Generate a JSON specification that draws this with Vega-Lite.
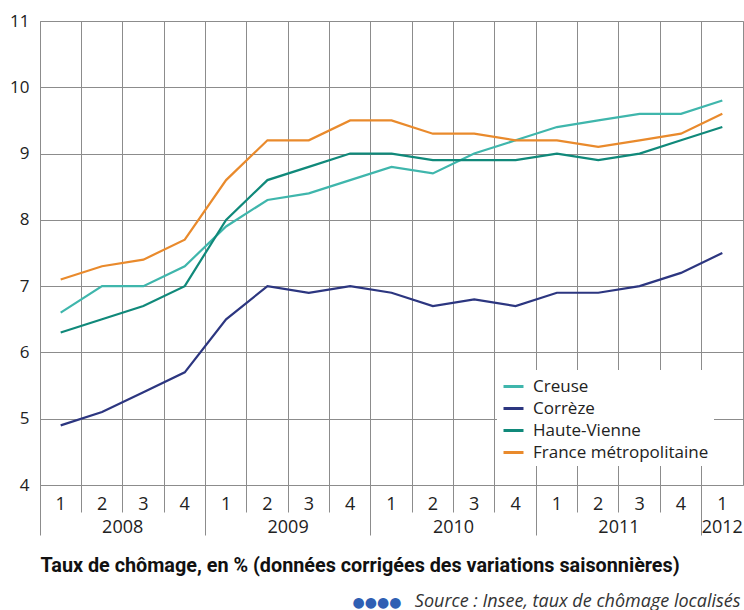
{
  "$schema": "https://vega.github.io/schema/vega-lite/v6.json",
  "width": 703,
  "height": 464,
  "autosize": {"type": "none"},
  "padding": {"left": 40, "top": 21, "right": 1, "bottom": 125},
  "background": "white",
  "config": {"view": {"stroke": "#8c8c8c", "strokeWidth": 1}, "font": "Open Sans"},
  "datasets": {
    "chomage": [
      {"t": "2008-1", "serie": "Creuse", "v": 6.6}, {"t": "2008-2", "serie": "Creuse", "v": 7.0}, {"t": "2008-3", "serie": "Creuse", "v": 7.0}, {"t": "2008-4", "serie": "Creuse", "v": 7.3},
      {"t": "2009-1", "serie": "Creuse", "v": 7.9}, {"t": "2009-2", "serie": "Creuse", "v": 8.3}, {"t": "2009-3", "serie": "Creuse", "v": 8.4}, {"t": "2009-4", "serie": "Creuse", "v": 8.6},
      {"t": "2010-1", "serie": "Creuse", "v": 8.8}, {"t": "2010-2", "serie": "Creuse", "v": 8.7}, {"t": "2010-3", "serie": "Creuse", "v": 9.0}, {"t": "2010-4", "serie": "Creuse", "v": 9.2},
      {"t": "2011-1", "serie": "Creuse", "v": 9.4}, {"t": "2011-2", "serie": "Creuse", "v": 9.5}, {"t": "2011-3", "serie": "Creuse", "v": 9.6}, {"t": "2011-4", "serie": "Creuse", "v": 9.6},
      {"t": "2012-1", "serie": "Creuse", "v": 9.8},
      {"t": "2008-1", "serie": "Corrèze", "v": 4.9}, {"t": "2008-2", "serie": "Corrèze", "v": 5.1}, {"t": "2008-3", "serie": "Corrèze", "v": 5.4}, {"t": "2008-4", "serie": "Corrèze", "v": 5.7},
      {"t": "2009-1", "serie": "Corrèze", "v": 6.5}, {"t": "2009-2", "serie": "Corrèze", "v": 7.0}, {"t": "2009-3", "serie": "Corrèze", "v": 6.9}, {"t": "2009-4", "serie": "Corrèze", "v": 7.0},
      {"t": "2010-1", "serie": "Corrèze", "v": 6.9}, {"t": "2010-2", "serie": "Corrèze", "v": 6.7}, {"t": "2010-3", "serie": "Corrèze", "v": 6.8}, {"t": "2010-4", "serie": "Corrèze", "v": 6.7},
      {"t": "2011-1", "serie": "Corrèze", "v": 6.9}, {"t": "2011-2", "serie": "Corrèze", "v": 6.9}, {"t": "2011-3", "serie": "Corrèze", "v": 7.0}, {"t": "2011-4", "serie": "Corrèze", "v": 7.2},
      {"t": "2012-1", "serie": "Corrèze", "v": 7.5},
      {"t": "2008-1", "serie": "Haute-Vienne", "v": 6.3}, {"t": "2008-2", "serie": "Haute-Vienne", "v": 6.5}, {"t": "2008-3", "serie": "Haute-Vienne", "v": 6.7}, {"t": "2008-4", "serie": "Haute-Vienne", "v": 7.0},
      {"t": "2009-1", "serie": "Haute-Vienne", "v": 8.0}, {"t": "2009-2", "serie": "Haute-Vienne", "v": 8.6}, {"t": "2009-3", "serie": "Haute-Vienne", "v": 8.8}, {"t": "2009-4", "serie": "Haute-Vienne", "v": 9.0},
      {"t": "2010-1", "serie": "Haute-Vienne", "v": 9.0}, {"t": "2010-2", "serie": "Haute-Vienne", "v": 8.9}, {"t": "2010-3", "serie": "Haute-Vienne", "v": 8.9}, {"t": "2010-4", "serie": "Haute-Vienne", "v": 8.9},
      {"t": "2011-1", "serie": "Haute-Vienne", "v": 9.0}, {"t": "2011-2", "serie": "Haute-Vienne", "v": 8.9}, {"t": "2011-3", "serie": "Haute-Vienne", "v": 9.0}, {"t": "2011-4", "serie": "Haute-Vienne", "v": 9.2},
      {"t": "2012-1", "serie": "Haute-Vienne", "v": 9.4},
      {"t": "2008-1", "serie": "France métropolitaine", "v": 7.1}, {"t": "2008-2", "serie": "France métropolitaine", "v": 7.3}, {"t": "2008-3", "serie": "France métropolitaine", "v": 7.4}, {"t": "2008-4", "serie": "France métropolitaine", "v": 7.7},
      {"t": "2009-1", "serie": "France métropolitaine", "v": 8.6}, {"t": "2009-2", "serie": "France métropolitaine", "v": 9.2}, {"t": "2009-3", "serie": "France métropolitaine", "v": 9.2}, {"t": "2009-4", "serie": "France métropolitaine", "v": 9.5},
      {"t": "2010-1", "serie": "France métropolitaine", "v": 9.5}, {"t": "2010-2", "serie": "France métropolitaine", "v": 9.3}, {"t": "2010-3", "serie": "France métropolitaine", "v": 9.3}, {"t": "2010-4", "serie": "France métropolitaine", "v": 9.2},
      {"t": "2011-1", "serie": "France métropolitaine", "v": 9.2}, {"t": "2011-2", "serie": "France métropolitaine", "v": 9.1}, {"t": "2011-3", "serie": "France métropolitaine", "v": 9.2}, {"t": "2011-4", "serie": "France métropolitaine", "v": 9.3},
      {"t": "2012-1", "serie": "France métropolitaine", "v": 9.6}
    ]
  },
  "data": {"name": "chomage"},
  "encoding": {
    "y": {
      "field": "v",
      "type": "quantitative",
      "scale": {"domain": [4, 11], "nice": false, "zero": false},
      "axis": {
        "values": [4, 5, 6, 7, 8, 9, 10, 11],
        "grid": true,
        "gridColor": "#8c8c8c",
        "gridWidth": 1,
        "ticks": false,
        "domain": false,
        "labelPadding": 11,
        "labelFontSize": 17,
        "labelColor": "#222222",
        "labelFont": "Open Sans",
        "title": "●●●●",
        "titleAngle": 0,
        "titleX": 312,
        "titleY": 581,
        "titleAlign": "left",
        "titleBaseline": "middle",
        "titleFont": "DejaVu Sans",
        "titleFontSize": 14,
        "titleFontWeight": "normal",
        "titleColor": "#2f5fb3"
      }
    }
  },
  "layer": [
    {
      "mark": {"type": "line", "strokeWidth": 2.2},
      "encoding": {
        "x": {
          "field": "t",
          "type": "ordinal",
          "scale": {"type": "band", "paddingInner": 0, "paddingOuter": 0},
          "axis": {
            "orient": "bottom",
            "bandPosition": 0,
            "grid": true,
            "gridColor": "#8c8c8c",
            "gridWidth": 1,
            "ticks": true,
            "tickSize": 27,
            "tickColor": "#8c8c8c",
            "domain": false,
            "labelExpr": "slice(datum.value, 5)",
            "labelOffset": 0,
            "labelPadding": -17,
            "labelAngle": 0,
            "labelAlign": "center",
            "labelFontSize": 18,
            "labelColor": "#222222",
            "labelOverlap": false,
            "labelBound": false,
            "labelFlush": false,
            "title": "Source : Insee, taux de chômage localisés",
            "titleX": 700,
            "titleY": 116,
            "titleAlign": "right",
            "titleBaseline": "middle",
            "titleFont": "Open Sans",
            "titleFontStyle": "italic",
            "titleFontWeight": "normal",
            "titleFontSize": 18,
            "titleColor": "#333333"
          }
        },
        "color": {
          "field": "serie",
          "type": "nominal",
          "scale": {
            "domain": ["Creuse", "Corrèze", "Haute-Vienne", "France métropolitaine"],
            "range": ["#3fb6ac", "#2c3680", "#10897a", "#e98a2c"]
          },
          "legend": {
            "orient": "none",
            "legendX": 457,
            "legendY": 349,
            "title": null,
            "fillColor": "white",
            "padding": 5,
            "symbolType": "stroke",
            "symbolStrokeWidth": 3,
            "symbolSize": 400,
            "labelFontSize": 17,
            "labelLimit": 300,
            "labelColor": "#222222",
            "labelFont": "Open Sans",
            "rowPadding": 2,
            "labelOffset": 8
          }
        }
      }
    },
    {
      "mark": {"type": "point", "opacity": 0},
      "encoding": {
        "x": {
          "field": "t",
          "type": "ordinal",
          "axis": {
            "orient": "bottom",
            "bandPosition": 0,
            "values": ["2008-1", "2009-1", "2010-1", "2011-1", "2012-1"],
            "grid": false,
            "ticks": true,
            "tickSize": 50,
            "tickColor": "#8c8c8c",
            "domain": false,
            "labelExpr": "slice(datum.value, 0, 4)",
            "labelOffset": {"condition": {"test": "datum.value == '2012-1'", "value": 0}, "value": 62},
            "labelPadding": -17,
            "labelAngle": 0,
            "labelAlign": "center",
            "labelFontSize": 18,
            "labelColor": "#222222",
            "labelOverlap": false,
            "labelBound": false,
            "labelFlush": false,
            "title": "Taux de chômage, en % (données corrigées des variations saisonnières)",
            "titleX": 0,
            "titleY": 80,
            "titleAlign": "left",
            "titleBaseline": "middle",
            "titleFont": "Roboto",
            "titleFontWeight": "bold",
            "titleFontSize": 19.8,
            "titleColor": "#111111"
          }
        }
      }
    }
  ],
  "resolve": {"axis": {"x": "independent"}}
}
